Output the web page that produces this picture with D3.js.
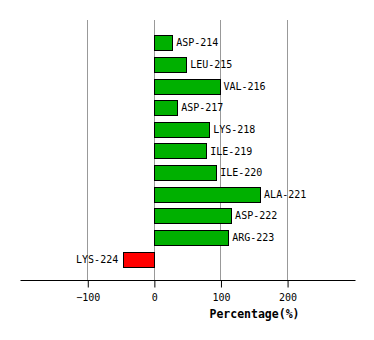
<!DOCTYPE html>
<html>
<head>
<meta charset="utf-8">
<script src="https://cdn.jsdelivr.net/npm/d3@7"></script>
<style>
  html, body { margin: 0; padding: 0; background: #fff; }
  svg { display: block; }
  text { font-family: "DejaVu Sans Mono", "Liberation Mono", monospace; }
</style>
</head>
<body>
<svg id="chart" width="374" height="340"></svg>
<script>
// Residues and their percentage values
const residues = ["ASP-214", "LEU-215", "VAL-216", "ASP-217", "LYS-218", "ILE-219",
                  "ILE-220", "ALA-221", "ASP-222", "ARG-223", "LYS-224"];
const percentages = [27.5, 48.5, 98.5, 35, 83, 78.5, 93.5, 159.5, 116, 111.5, -46];
const tickValues = [-100, 0, 100, 200];
const axisTitle = "Percentage(%)";

const svg = d3.select("#chart");

const x = d3.scaleLinear().domain([-201, 302]).range([20, 355]);
const y = d3.scaleBand().domain(residues).range([32, 270])
  .paddingInner(0.3).paddingOuter(0.15);

const axisY = 280.5;

// vertical grid lines
svg.append("g")
  .selectAll("line")
  .data(tickValues)
  .join("line")
  .attr("x1", d => Math.round(x(d)) + 0.5)
  .attr("x2", d => Math.round(x(d)) + 0.5)
  .attr("y1", 20)
  .attr("y2", axisY)
  .attr("stroke", "#999")
  .attr("stroke-width", 1);

// bars
const data = residues.map((r, i) => ({ name: r, value: percentages[i] }));

svg.append("g")
  .selectAll("rect")
  .data(data)
  .join("rect")
  .attr("x", d => Math.round(x(Math.min(0, d.value))) + 0.5)
  .attr("y", d => Math.round(y(d.name)) + 0.5)
  .attr("width", d => Math.round(Math.abs(x(d.value) - x(0))))
  .attr("height", Math.round(y.bandwidth()))
  .attr("fill", d => d.value >= 0 ? "#00b000" : "#ff0000")
  .attr("stroke", "#000")
  .attr("stroke-width", 1);

// bar labels
svg.append("g")
  .selectAll("text")
  .data(data)
  .join("text")
  .attr("x", d => d.value >= 0 ? x(d.value) + 4 : x(d.value) - 5)
  .attr("y", d => y(d.name) + y.bandwidth() / 2)
  .attr("dy", "0.35em")
  .attr("text-anchor", d => d.value >= 0 ? "start" : "end")
  .attr("font-size", "10px")
  .attr("fill", "#000")
  .text(d => d.name);

// x axis
const axis = d3.axisBottom(x).tickValues(tickValues).tickSize(7).tickPadding(6);
const gx = svg.append("g")
  .attr("transform", `translate(0.5,${axisY})`)
  .call(axis);
gx.select(".domain").remove();
gx.append("line")
  .attr("x1", 20).attr("x2", 355)
  .attr("stroke", "#000").attr("stroke-width", 1);
gx.selectAll(".tick line").attr("stroke", "#000");
gx.selectAll(".tick text")
  .attr("font-family", "'DejaVu Sans Mono', monospace")
  .attr("font-size", "10px")
  .attr("fill", "#000");

// axis title
svg.append("text")
  .attr("x", 254.5)
  .attr("y", 318)
  .attr("text-anchor", "middle")
  .attr("font-size", "11.5px")
  .attr("font-weight", "bold")
  .attr("fill", "#000")
  .text(axisTitle);
</script>
</body>
</html>
